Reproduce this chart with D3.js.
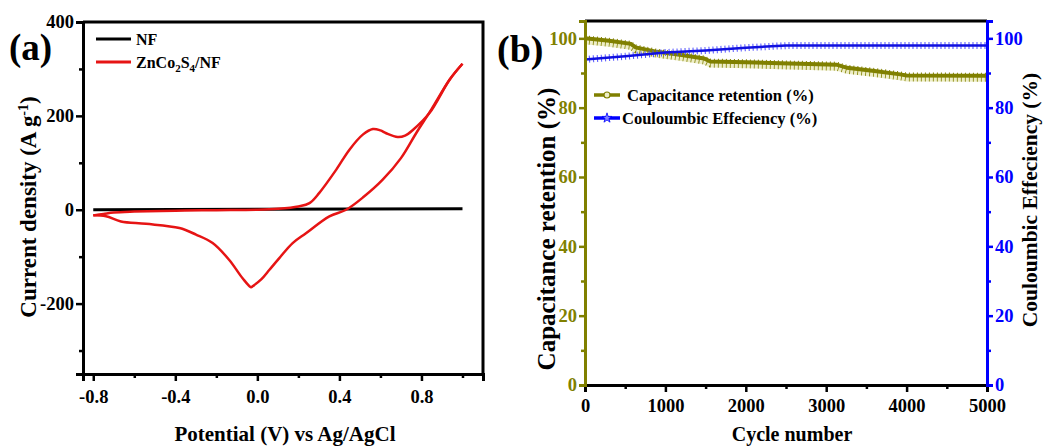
<!DOCTYPE html>
<html lang="en">
<head>
  <meta charset="UTF-8" />
  <title>CV curve and cycling stability</title>
  <script src="https://d3js.org/d3.v7.min.js"></script>
  <style>
    body { margin: 0; background: #fff; }
    svg { display: block; font-family: "Liberation Serif", "Times New Roman", serif; font-weight: bold; }
  </style>
</head>
<body>
  <svg width="1043" height="448"></svg>

  <script>
    // ---- panel (a) data: CV curve ----
    const nfV = [-0.8, 1.0];
    const nfI = [0, 2];
    // forward (anodic) scan
    const fwdV = [-0.8, -0.75, -0.7, -0.6, -0.4, -0.2, 0.0, 0.1, 0.2, 0.254, 0.302, 0.384, 0.449, 0.514, 0.563, 0.6, 0.628, 0.684, 0.72, 0.758, 0.839, 0.937, 1.0];
    const fwdI = [-12, -9, -6, -4, -2, -1, 0, 2, 7, 14, 36, 85, 128, 160, 172, 169, 163, 155, 158, 170, 206, 277, 311];
    // reverse (cathodic) scan
    const revV = [1.0, 0.937, 0.85, 0.774, 0.7, 0.611, 0.52, 0.433, 0.351, 0.237, 0.172, 0.107, 0.059, 0.02, -0.023, -0.031, -0.072, -0.137, -0.218, -0.299, -0.38, -0.543, -0.665, -0.738, -0.8];
    const revI = [311, 277, 215, 163, 110, 64, 28, 0, -14, -50, -71, -103, -128, -148, -163, -165, -146, -107, -71, -53, -39, -30, -25, -14, -12];
    const cvXTicks = [-0.8, -0.4, 0.0, 0.4, 0.8];
    const cvYTicks = [400, 200, 0, -200];

    // ---- panel (b) data: cycling ----
    const capCycles = [0, 300, 570, 630, 900, 1200, 1480, 1560, 2000, 2430, 3130, 3260, 3600, 3920, 4000, 5000];
    const capValues = [100, 99.3, 98.4, 97.4, 96.1, 95.2, 94.2, 93.3, 93.1, 92.8, 92.4, 91.5, 90.6, 89.6, 89.3, 89.2];
    const ceCycles = [0, 500, 1000, 1500, 2000, 2500, 3000, 4000, 5000];
    const ceValues = [93.9, 94.8, 95.9, 96.5, 97.3, 97.9, 97.9, 97.9, 97.9];
    const cycleTicks = [0, 1000, 2000, 3000, 4000, 5000];
    const pctTicks = [0, 20, 40, 60, 80, 100];

    const OLIVE = "#808000", BLUE = "#0000ff", RED = "#e61414";
    const svg = d3.select("svg");
    const hy = s => String(s).replace("\u2212", "-");

    function drawAxis(g, axis, color) {
      g.call(axis);
      g.select(".domain").attr("stroke", color).attr("stroke-width", 3);
      g.selectAll(".tick line").attr("stroke", color).attr("stroke-width", 2.5);
      g.selectAll(".tick text").attr("fill", color).attr("font-size", 18.5).attr("font-family", "Liberation Serif").attr("font-weight", "bold");
      return g;
    }
    function minor(g, axis, color) {
      g.call(axis);
      g.select(".domain").remove();
      g.selectAll(".tick line").attr("stroke", color).attr("stroke-width", 2.5);
      g.selectAll(".tick text").remove();
    }

    // ================= panel (a) =================
    const a = { left: 83, right: 483, top: 22, bottom: 374 };
    const xa = d3.scaleLinear().domain([-0.85, 1.1]).range([a.left, a.right]);
    const ya = d3.scaleLinear().domain([-350, 400]).range([a.bottom, a.top]);

    const lineA = d3.line().x(d => xa(d[0])).y(d => ya(d[1])).curve(d3.curveCatmullRom);

    svg.append("path").datum(d3.zip(nfV, nfI)).attr("d", lineA)
      .attr("fill", "none").attr("stroke", "#000").attr("stroke-width", 3);
    svg.append("path").datum(d3.zip(fwdV, fwdI)).attr("d", lineA)
      .attr("fill", "none").attr("stroke", RED).attr("stroke-width", 2.5);
    svg.append("path").datum(d3.zip(revV, revI)).attr("d", lineA)
      .attr("fill", "none").attr("stroke", RED).attr("stroke-width", 2.5);

    // frame top/right
    svg.append("path").attr("d", `M${a.left},${a.top}H${a.right}V${a.bottom}`)
      .attr("fill", "none").attr("stroke", "#000").attr("stroke-width", 3);

    minor(svg.append("g").attr("transform", `translate(0,${a.bottom})`),
      d3.axisBottom(xa).tickValues([-0.6, -0.2, 0.2, 0.6, 1.0]).tickSize(4), "#000");
    drawAxis(svg.append("g").attr("transform", `translate(0,${a.bottom})`),
      d3.axisBottom(xa).tickValues(cvXTicks).tickSize(7).tickPadding(9).tickFormat(d => hy(d3.format(".1f")(d))), "#000");
    minor(svg.append("g").attr("transform", `translate(${a.left},0)`),
      d3.axisLeft(ya).tickValues([300, 100, -100, -300]).tickSize(4), "#000");
    drawAxis(svg.append("g").attr("transform", `translate(${a.left},0)`),
      d3.axisLeft(ya).tickValues(cvYTicks).tickSize(7).tickPadding(2).tickFormat(d => hy(d)), "#000");

    svg.append("text").attr("x", 9).attr("y", 60).attr("font-size", 37).text("(a)");

    svg.append("text").attr("transform", `translate(36,207) rotate(-90)`)
      .attr("text-anchor", "middle").attr("font-size", 23)
      .html('Current density (A g<tspan dy="-8" font-size="14">-1</tspan><tspan dy="8">)</tspan>');
    svg.append("text").attr("x", 285).attr("y", 441).attr("text-anchor", "middle")
      .attr("font-size", 21).text("Potential (V) vs Ag/AgCl");

    // legend (a)
    const legA = [{ name: "NF", color: "#000", y: 39 }, { name: "ZnCo2S4/NF", color: RED, y: 62 }];
    legA.forEach(d => {
      svg.append("line").attr("x1", 96).attr("x2", 131).attr("y1", d.y).attr("y2", d.y)
        .attr("stroke", d.color).attr("stroke-width", 3);
    });
    svg.append("text").attr("x", 136).attr("y", 45).attr("font-size", 16).text("NF");
    svg.append("text").attr("x", 136).attr("y", 68).attr("font-size", 16)
      .html('ZnCo<tspan dy="4" font-size="11">2</tspan><tspan dy="-4">S</tspan><tspan dy="4" font-size="11">4</tspan><tspan dy="-4">/NF</tspan>');

    // ================= panel (b) =================
    const b = { left: 585, right: 987, top: 21, bottom: 385 };
    const xb = d3.scaleLinear().domain([0, 5000]).range([b.left, b.right]);
    const yb = d3.scaleLinear().domain([0, 105]).range([b.bottom, b.top]);
    const lineB = d3.line().x(d => xb(d[0])).y(d => yb(d[1]));

    const capData = d3.zip(capCycles, capValues);
    const ceData = d3.zip(ceCycles, ceValues);

    // capacitance retention: pale hollow-marker band under a solid olive line
    const capG = svg.append("g");
    capG.append("path").datum(capData).attr("d", lineB).attr("transform", "translate(0,3.5)")
      .attr("fill", "none").attr("stroke", "#eeeec8").attr("stroke-width", 5);
    capG.append("path").datum(capData).attr("d", lineB).attr("transform", "translate(0,3.5)")
      .attr("fill", "none").attr("stroke", OLIVE).attr("stroke-width", 5).attr("stroke-dasharray", "0.8 3.2");
    capG.append("path").datum(capData).attr("d", lineB)
      .attr("fill", "none").attr("stroke", OLIVE).attr("stroke-width", 4);
    capG.append("path").datum(capData).attr("d", lineB).attr("transform", "translate(0,-2)")
      .attr("fill", "none").attr("stroke", OLIVE).attr("stroke-width", 2).attr("stroke-dasharray", "1 3");

    // coulombic efficiency: blue line with dense star markers
    const ceG = svg.append("g");
    ceG.append("path").datum(ceData).attr("d", lineB)
      .attr("fill", "none").attr("stroke", "#5050ff").attr("stroke-width", 7).attr("stroke-dasharray", "1 3");
    ceG.append("path").datum(ceData).attr("d", lineB)
      .attr("fill", "none").attr("stroke", "#1010e0").attr("stroke-width", 2.5);

    // frame top
    svg.append("line").attr("x1", b.left).attr("x2", b.right).attr("y1", b.top).attr("y2", b.top)
      .attr("stroke", "#000").attr("stroke-width", 3);

    minor(svg.append("g").attr("transform", `translate(0,${b.bottom})`),
      d3.axisBottom(xb).tickValues([500, 1500, 2500, 3500, 4500]).tickSize(4), "#000");
    drawAxis(svg.append("g").attr("transform", `translate(0,${b.bottom})`),
      d3.axisBottom(xb).tickValues(cycleTicks).tickSize(7).tickPadding(7).tickFormat(d3.format("d")), "#000");

    minor(svg.append("g").attr("transform", `translate(${b.left},0)`),
      d3.axisLeft(yb).tickValues([10, 30, 50, 70, 90]).tickSize(4), OLIVE);
    drawAxis(svg.append("g").attr("transform", `translate(${b.left},0)`),
      d3.axisLeft(yb).tickValues(pctTicks).tickSize(6).tickPadding(2), OLIVE);

    minor(svg.append("g").attr("transform", `translate(${b.right},0)`),
      d3.axisRight(yb).tickValues([10, 30, 50, 70, 90]).tickSize(4), BLUE);
    drawAxis(svg.append("g").attr("transform", `translate(${b.right},0)`),
      d3.axisRight(yb).tickValues(pctTicks).tickSize(6).tickPadding(2), BLUE);

    svg.append("text").attr("x", 497).attr("y", 62).attr("font-size", 38).text("(b)");

    svg.append("text").attr("transform", `translate(555,229) rotate(-90)`)
      .attr("text-anchor", "middle").attr("font-size", 25).text("Capacitance retention (%)");
    svg.append("text").attr("transform", `translate(1037,200) rotate(-90)`)
      .attr("text-anchor", "middle").attr("font-size", 21.5).text("Couloumbic Effeciency (%)");
    svg.append("text").attr("x", 792).attr("y", 441).attr("text-anchor", "middle")
      .attr("font-size", 20).text("Cycle number");

    // legend (b)
    const legB = [
      { name: "Capacitance retention (%)", color: OLIVE, y: 95, tx: 627, sym: "circle" },
      { name: "Couloumbic Effeciency (%)", color: BLUE, y: 118, tx: 622, sym: "star" }
    ];
    legB.forEach(d => {
      svg.append("line").attr("x1", 594).attr("x2", 620).attr("y1", d.y).attr("y2", d.y)
        .attr("stroke", d.color).attr("stroke-width", 3.5);
      if (d.sym === "circle") {
        svg.append("circle").attr("cx", 607).attr("cy", d.y).attr("r", 3)
          .attr("fill", "#eeeec8").attr("stroke", d.color).attr("stroke-width", 1.2);
      } else {
        svg.append("path").attr("d", d3.symbol(d3.symbolStar, 30)())
          .attr("transform", `translate(607,${d.y})`)
          .attr("fill", "#8080ff").attr("stroke", d.color).attr("stroke-width", 0.8);
      }
      svg.append("text").attr("x", d.tx).attr("y", d.y + 6).attr("font-size", 16.5).text(d.name);
    });
  </script>
</body>
</html>
